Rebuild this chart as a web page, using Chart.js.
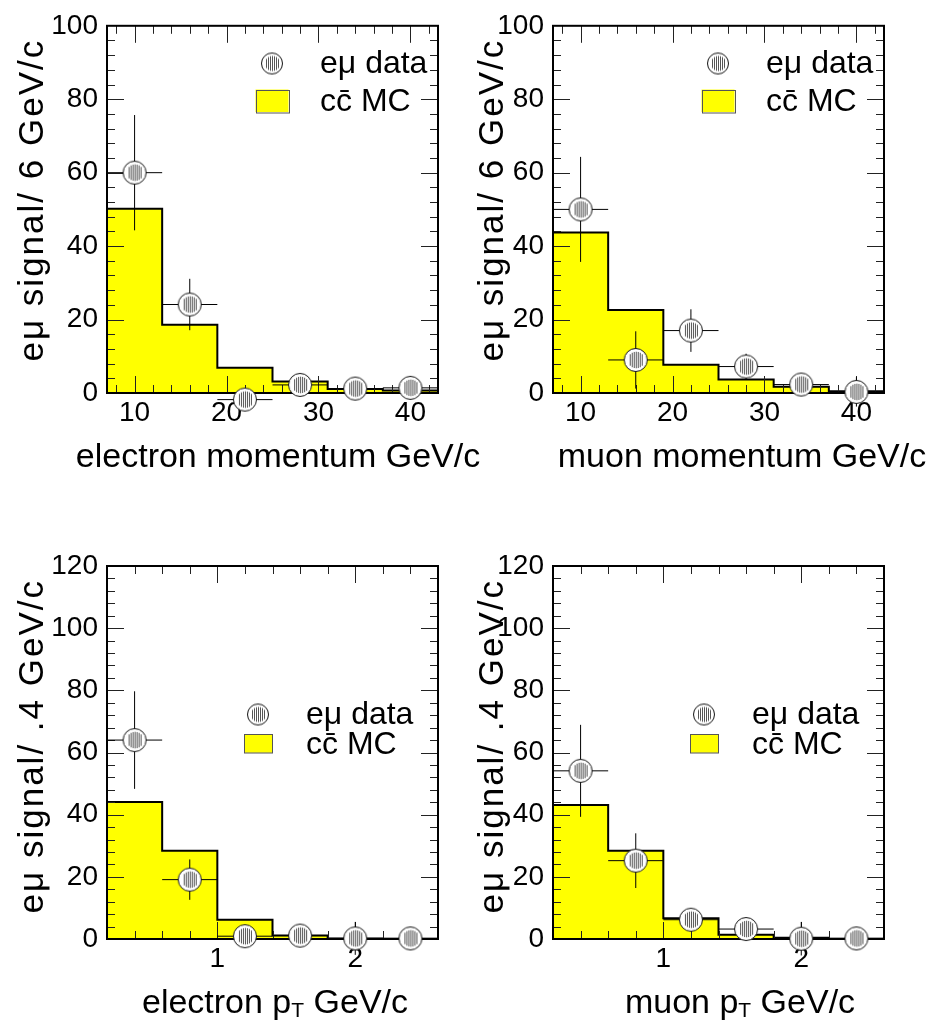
<!DOCTYPE html>
<html><head><meta charset="utf-8">
<script src="https://cdn.jsdelivr.net/npm/chart.js@4.4.1/dist/chart.umd.min.js"></script>
<style>
html,body{margin:0;padding:0;background:#fff;}
#wrap{position:relative;width:929px;height:1026px;overflow:hidden;}
canvas{position:absolute;left:0;top:0;}
</style></head><body><div id="wrap">
<canvas id="c1" width="929" height="1026"></canvas>
<canvas id="c2" width="929" height="1026"></canvas>
<canvas id="c3" width="929" height="1026"></canvas>
<canvas id="c4" width="929" height="1026"></canvas>
</div>
<script>
// ---------- data ----------
const momEdges   = [7, 13, 19, 25, 31, 37, 43];
const momCenters = [10, 16, 22, 28, 34, 40];
const ptEdges    = [0.2, 0.6, 1.0, 1.4, 1.8, 2.2, 2.6];
const ptCenters  = [0.4, 0.8, 1.2, 1.6, 2.0, 2.4];

const eMomMC   = [50.2, 18.6, 6.9, 3.1, 1.1, 0.7];
const eMomData = [60.0, 24.1, -1.8, 2.2, 1.2, 1.4];
const eMomErr  = [15.7, 7.0, 2.5, 2.5, 2.0, 3.1];

const muMomMC   = [43.7, 22.6, 7.7, 3.7, 1.7, 0.5];
const muMomData = [50.0, 9.0, 17.0, 7.2, 2.3, 0.3];
const muMomErr  = [14.3, 7.8, 5.8, 3.5, 2.5, 4.0];

const ePtMC   = [44.1, 28.4, 6.2, 1.1, 0.2, 0.1];
const ePtData = [64.0, 19.1, 0.9, 1.1, 0.2, 0.2];
const ePtErr  = [15.7, 6.5, 2.5, 2.5, 5.3, 2.5];

const muPtMC   = [43.1, 28.4, 6.7, 1.4, 0.4, 0.1];
const muPtData = [54.1, 25.2, 6.2, 3.2, 0.1, 0.2];
const muPtErr  = [14.8, 8.8, 3.2, 2.5, 5.4, 2.5];

const momXTicks = [10, 20, 30, 40];
const ptXTicks  = [1, 2];
const momYTicks = [0, 20, 40, 60, 80, 100];
const ptYTicks  = [0, 20, 40, 60, 80, 100, 120];

const dataLabel = 'eμ data';
const mcLabel   = 'cc\u0304 MC';
const yTitleMom = 'eμ signal/ 6 GeV/c';
const yTitlePt  = 'eμ signal/ .4 GeV/c';
const xTitleEMom  = [['electron momentum GeV/c', false]];
const xTitleMuMom = [['muon momentum GeV/c', false]];
const xTitleEPt   = [['electron p', false], ['T', true], [' GeV/c', false]];
const xTitleMuPt  = [['muon p', false], ['T', true], [' GeV/c', false]];

// ---------- styling helpers ----------
const FONT = '"Liberation Sans", Arial, sans-serif';
const W = 929, H = 1026;

function makeMarker(r) {
  const s = Math.ceil(2 * r + 3);
  const c = document.createElement('canvas');
  c.width = s; c.height = s;
  const g = c.getContext('2d');
  const m = s / 2;
  g.beginPath(); g.arc(m, m, r, 0, Math.PI * 2); g.fillStyle = '#fff'; g.fill();
  g.strokeStyle = '#555'; g.lineWidth = 1;
  const inner = r * 0.72;
  for (let dx = -6; dx <= 6; dx += 2) {
    const h = Math.sqrt(Math.max(inner * inner - dx * dx, 0));
    const xx = Math.round(m + dx) + 0.5;
    g.beginPath(); g.moveTo(xx, m - h); g.lineTo(xx, m + h); g.stroke();
  }
  g.beginPath(); g.arc(m, m, r, 0, Math.PI * 2); g.strokeStyle = '#111'; g.lineWidth = 1; g.stroke();
  return c;
}
const markerImg = makeMarker(11.5);
const legendMarkerImg = makeMarker(10.5);

// frame + inward ticks, drawn right after the histogram
const frameTicks = {
  id: 'frameTicks',
  afterDatasetDraw(chart, args, o) {
    if (args.index !== 2) return;
    const ctx = chart.ctx;
    const {left, right, top, bottom} = chart.chartArea;
    const xs = chart.scales.x, ys = chart.scales.y;
    ctx.save();
    ctx.strokeStyle = '#222'; ctx.lineWidth = 1;
    const seg = (a, b, c, d) => { ctx.beginPath(); ctx.moveTo(a, b); ctx.lineTo(c, d); ctx.stroke(); };
    const isMul = (v, s) => Math.abs(v / s - Math.round(v / s)) < 1e-6;
    for (let k = Math.ceil(xs.min / o.xMinor - 1e-6); k * o.xMinor <= xs.max + 1e-6; k++) {
      const v = k * o.xMinor;
      const px = Math.round(xs.getPixelForValue(v)) + 0.5;
      if (px < left + 2 || px > right - 2) continue;
      const L = isMul(v, o.xMajor) ? 17 : 8;
      seg(px, top, px, top + L); seg(px, bottom, px, bottom - L);
    }
    for (let k = Math.ceil(ys.min / o.yMinor - 1e-6); k * o.yMinor <= ys.max + 1e-6; k++) {
      const v = k * o.yMinor;
      const py = Math.round(ys.getPixelForValue(v)) + 0.5;
      if (py < top + 2 || py > bottom - 2) continue;
      const L = isMul(v, o.yMajor) ? 17 : 8;
      seg(left, py, left + L, py); seg(right, py, right - L, py);
    }
    ctx.strokeStyle = '#000'; ctx.lineWidth = 2;
    ctx.strokeRect(left, top, right - left, bottom - top);
    ctx.restore();
  }
};

const hepLegend = {
  id: 'hepLegend',
  afterDraw(chart, args, o) {
    const ctx = chart.ctx, ca = chart.chartArea;
    const mx = ca.right + o.dx, y1 = ca.top + o.y1, y2 = ca.top + o.y2;
    ctx.save();
    ctx.drawImage(o.marker, mx - o.marker.width / 2, y1 - o.marker.height / 2);
    ctx.fillStyle = '#ffff00';
    ctx.fillRect(mx - o.boxW / 2, y2 - o.boxH / 2, o.boxW, o.boxH);
    ctx.strokeStyle = '#555'; ctx.lineWidth = 1;
    ctx.strokeRect(Math.round(mx - o.boxW / 2) + 0.5, Math.round(y2 - o.boxH / 2) + 0.5, o.boxW, o.boxH);
    ctx.fillStyle = '#000'; ctx.font = '32px ' + FONT;
    ctx.textAlign = 'left'; ctx.textBaseline = 'alphabetic';
    ctx.fillText(chart.data.datasets[0].label, mx + 48, y1 + 9);
    ctx.fillText(chart.data.datasets[2].label, mx + 48, y2 + 10);
    ctx.restore();
  }
};

const axisTitles = {
  id: 'axisTitles',
  afterDraw(chart, args, o) {
    const ctx = chart.ctx, ca = chart.chartArea;
    ctx.save();
    ctx.fillStyle = '#000'; ctx.textBaseline = 'alphabetic';
    const big = '34px ' + FONT, small = '21px ' + FONT;
    let w = 0;
    o.xParts.forEach(([t, sub]) => { ctx.font = sub ? small : big; w += ctx.measureText(t).width; });
    let x = o.xCx - w / 2;
    const by = ca.bottom + o.xDy;
    ctx.textAlign = 'left';
    o.xParts.forEach(([t, sub]) => {
      ctx.font = sub ? small : big;
      ctx.fillText(t, x, by + (sub ? 4 : 0));
      x += ctx.measureText(t).width;
    });
    ctx.translate(o.yX, ca.top + o.yDy);
    ctx.rotate(-Math.PI / 2);
    ctx.font = '35px ' + FONT;
    try { ctx.letterSpacing = '2px'; } catch (e) {}
    ctx.textAlign = 'right';
    ctx.fillText(o.yText, 0, 0);
    ctx.restore();
  }
};

function buildChart(p) {
  const nb = p.mc.length;
  const hist = p.edges.map((e, i) => ({x: e, y: p.mc[Math.min(i, nb - 1)]}));
  const pts = p.centers.map((c, i) => ({x: c, y: p.data[i]}));
  const bars = [];
  p.centers.forEach((c, i) => {
    const v = p.data[i], e = p.err[i];
    bars.push({x: p.edges[i], y: v}, {x: p.edges[i + 1], y: v}, {x: c, y: null},
              {x: c, y: v - e}, {x: c, y: v + e}, {x: c, y: null});
  });
  const tickFont = {family: FONT, size: 28};
  const A = p.area; // [left, top, right, bottom] of plot
  new Chart(document.getElementById(p.id), {
    type: 'line',
    data: {datasets: [
      {label: dataLabel, data: pts, showLine: false, pointStyle: markerImg, pointRadius: 12, clip: false},
      {label: 'errors', data: bars, borderColor: '#000', borderWidth: 1, pointRadius: 0, spanGaps: false, clip: false, tension: 0},
      {label: mcLabel, data: hist, stepped: true, borderColor: '#000', borderWidth: 2,
       backgroundColor: '#ffff00', fill: 'origin', pointRadius: 0}
    ]},
    options: {
      responsive: false, animation: false, events: [],
      layout: {padding: {left: A[0] - p.yAxisW, right: W - A[2], top: A[1], bottom: H - A[3] - p.xAxisH}},
      scales: {
        x: {type: 'linear', min: p.edges[0], max: p.edges[p.edges.length - 1],
            grid: {display: false, drawTicks: false}, border: {display: false},
            ticks: {color: '#000', font: tickFont, padding: 3, autoSkip: false, maxRotation: 0},
            afterBuildTicks: s => { s.ticks = p.xTicks.map(v => ({value: v})); },
            afterFit: s => { s.height = p.xAxisH; }},
        y: {type: 'linear', min: p.yTicks[0], max: p.yTicks[p.yTicks.length - 1],
            grid: {display: false, drawTicks: false}, border: {display: false},
            ticks: {color: '#000', font: tickFont, padding: 9, autoSkip: false},
            afterBuildTicks: s => { s.ticks = p.yTicks.map(v => ({value: v})); },
            afterFit: s => { s.width = p.yAxisW; }}
      },
      plugins: {
        legend: {display: false}, tooltip: {enabled: false},
        frameTicks: {xMinor: p.xMinor, xMajor: p.xMajor, yMinor: 4, yMajor: 20},
        hepLegend: p.legend,
        axisTitles: {xParts: p.xTitle, xCx: p.xCx, xDy: 74, yX: p.yX, yDy: 13, yText: p.yTitle}
      }
    },
    plugins: [frameTicks, hepLegend, axisTitles]
  });
}

const legTop = {marker: legendMarkerImg, dx: -166, y1: 37.7, y2: 75, boxW: 33, boxH: 22.5};
const legBot = {marker: legendMarkerImg, dx: -180, y1: 148.5, y2: 177.5, boxW: 28, boxH: 18.5};

buildChart({id: 'c1', edges: momEdges, centers: momCenters, mc: eMomMC, data: eMomData, err: eMomErr,
  xTicks: momXTicks, yTicks: momYTicks, xMinor: 2, xMajor: 10, xTitle: xTitleEMom, yTitle: yTitleMom,
  legend: legTop, area: [107, 19, 438, 393], yAxisW: 107, xAxisH: 107, xCx: 278, yX: 43});
buildChart({id: 'c2', edges: momEdges, centers: momCenters, mc: muMomMC, data: muMomData, err: muMomErr,
  xTicks: momXTicks, yTicks: momYTicks, xMinor: 2, xMajor: 10, xTitle: xTitleMuMom, yTitle: yTitleMom,
  legend: legTop, area: [553, 19, 884, 393], yAxisW: 88, xAxisH: 107, xCx: 742, yX: 503});
buildChart({id: 'c3', edges: ptEdges, centers: ptCenters, mc: ePtMC, data: ePtData, err: ePtErr,
  xTicks: ptXTicks, yTicks: ptYTicks, xMinor: 0.2, xMajor: 1, xTitle: xTitleEPt, yTitle: yTitlePt,
  legend: legBot, area: [107, 566, 438, 939], yAxisW: 107, xAxisH: 87, xCx: 275, yX: 43});
buildChart({id: 'c4', edges: ptEdges, centers: ptCenters, mc: muPtMC, data: muPtData, err: muPtErr,
  xTicks: ptXTicks, yTicks: ptYTicks, xMinor: 0.2, xMajor: 1, xTitle: xTitleMuPt, yTitle: yTitlePt,
  legend: legBot, area: [553, 566, 884, 939], yAxisW: 88, xAxisH: 87, xCx: 740, yX: 503});
</script>
</body></html>
